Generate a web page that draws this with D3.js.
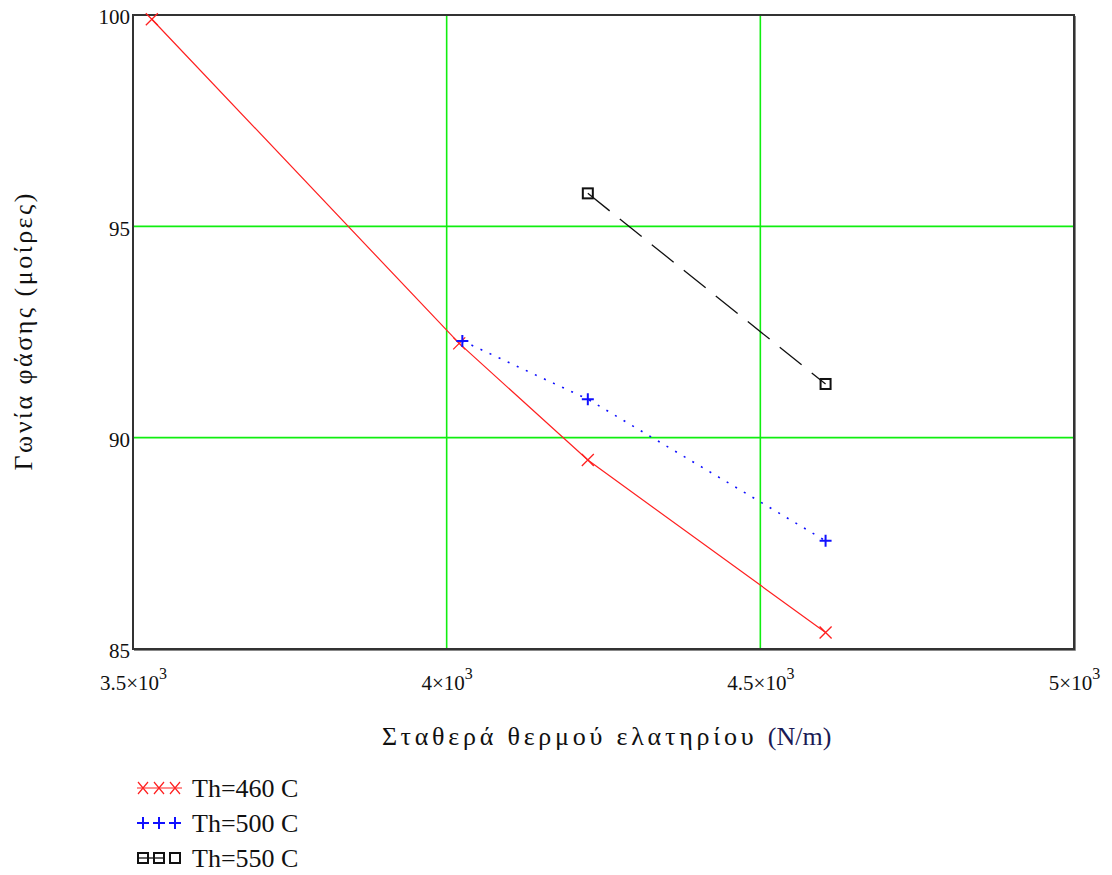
<!DOCTYPE html>
<html>
<head>
<meta charset="utf-8">
<script src="https://cdn.jsdelivr.net/npm/d3@7"></script>
<style>
  html, body { margin: 0; padding: 0; background: #fff; }
  svg { display: block; }
  text { font-family: "Liberation Serif", "Times New Roman", serif; }
</style>
</head>
<body>
<svg id="chart" width="1112" height="875"></svg>
<script>
// Spring constant (N/m) and phase angle (degrees) for three hot-side temperatures
const k460 = [3530, 4020, 4225, 4604];
const phase460 = [99.90, 92.23, 89.47, 85.39];

const k500 = [4025, 4225, 4604];
const phase500 = [92.29, 90.91, 87.56];

const k550 = [4225, 4604];
const phase550 = [95.78, 91.27];

const seriesLabels = ["Th=460 C", "Th=500 C", "Th=550 C"];

// Axis ticks
const xTicks = [3500, 4000, 4500, 5000];
const xTickMantissa = ["3.5", "4", "4.5", "5"];
const xTickExponent = "3";
const yTicks = [85, 90, 95, 100];
const xGrid = [4000, 4500];
const yGrid = [90, 95];

const xTitleGreek = "Σταθερά θερμού ελατηρίου ";
const xTitleUnit = "(N/m)";
const yTitle = "Γωνία φάσης (μοίρες)";

const svg = d3.select("#chart");

const x = d3.scaleLinear().domain([3500, 5000]).range([133, 1074]);
const y = d3.scaleLinear().domain([85, 100]).range([649, 15]);

const green = "#10ee10";

// Grid lines
svg.append("g").selectAll("line").data(xGrid).join("line")
  .attr("x1", d => x(d)).attr("x2", d => x(d))
  .attr("y1", y(85)).attr("y2", y(100))
  .attr("stroke", green).attr("stroke-width", 1.6);
svg.append("g").selectAll("line").data(yGrid).join("line")
  .attr("x1", x(3500)).attr("x2", x(5000))
  .attr("y1", d => y(d)).attr("y2", d => y(d))
  .attr("stroke", green).attr("stroke-width", 1.6);

// Plot frame with a slight shadow on the right and bottom edges
svg.append("rect")
  .attr("x", x(3500)).attr("y", y(100))
  .attr("width", x(5000) - x(3500)).attr("height", y(85) - y(100))
  .attr("fill", "none").attr("stroke", "#333").attr("stroke-width", 2);
svg.append("path")
  .attr("d", `M${x(5000) + 1.5},${y(100) + 1}V${y(85) + 1.5}H${x(3500) + 1}`)
  .attr("fill", "none").attr("stroke", "#888").attr("stroke-width", 1);

// Axes (labels only; the frame draws the spine)
const xAxis = svg.append("g")
  .attr("transform", `translate(0,${y(85)})`)
  .call(d3.axisBottom(x).tickValues(xTicks).tickSize(0).tickFormat(""));
xAxis.select(".domain").remove();
xAxis.selectAll(".tick text").each(function(d, i) {
  const t = d3.select(this)
    .attr("y", 41).attr("dy", null)
    .attr("font-size", 21).attr("fill", "#111")
    .attr("text-anchor", "middle");
  t.append("tspan").text(xTickMantissa[i] + "×10");
  t.append("tspan").attr("dy", -11).attr("font-size", 16).text(xTickExponent);
});

const yAxis = svg.append("g")
  .attr("transform", `translate(${x(3500)},0)`)
  .call(d3.axisLeft(y).tickValues(yTicks).tickSize(0).tickFormat(d3.format("d")));
yAxis.select(".domain").remove();
yAxis.selectAll(".tick text")
  .attr("x", -3).attr("dy", "0.42em")
  .attr("font-size", 21).attr("fill", "#111");

// Lines
const line = (ks, ps) => d3.line().x((d, i) => x(ks[i])).y(d => y(d))(ps);

svg.append("path").attr("d", line(k460, phase460))
  .attr("fill", "none").attr("stroke", "#ff2020").attr("stroke-width", 1.2);
svg.append("path").attr("d", line(k500, phase500))
  .attr("fill", "none").attr("stroke", "#1010ff").attr("stroke-width", 1.6)
  .attr("stroke-dasharray", "2,8");
svg.append("path").attr("d", line(k550, phase550))
  .attr("fill", "none").attr("stroke", "#111").attr("stroke-width", 1.3)
  .attr("stroke-dasharray", "28,13");

// Marker drawers
function crossX(g, cx, cy, color) {
  g.append("path").attr("d", `M${cx - 6},${cy - 6}L${cx + 6},${cy + 6}M${cx - 6},${cy + 6}L${cx + 6},${cy - 6}`)
    .attr("stroke", color).attr("stroke-width", 1.3).attr("fill", "none");
}
function plus(g, cx, cy, color) {
  g.append("path").attr("d", `M${cx - 6},${cy}L${cx + 6},${cy}M${cx},${cy - 6}L${cx},${cy + 6}`)
    .attr("stroke", color).attr("stroke-width", 2).attr("fill", "none");
}
function square(g, cx, cy, color) {
  g.append("rect").attr("x", cx - 5).attr("y", cy - 5).attr("width", 10).attr("height", 10)
    .attr("stroke", color).attr("stroke-width", 2).attr("fill", "none");
}

const marks = svg.append("g");
phase460.forEach((p, i) => crossX(marks, x(k460[i]), y(p), "#ff2020"));
phase500.forEach((p, i) => plus(marks, x(k500[i]), y(p), "#1010ff"));
phase550.forEach((p, i) => square(marks, x(k550[i]), y(p), "#111"));

// Axis titles
const xt = svg.append("text")
  .attr("x", 382).attr("y", 745)
  .attr("font-size", 26).attr("fill", "#111");
xt.append("tspan").attr("textLength", 382).attr("lengthAdjust", "spacing").text(xTitleGreek);
xt.append("tspan").attr("fill", "#1a1a55").attr("font-size", 26).text(xTitleUnit);

svg.append("text")
  .attr("transform", `translate(32,${(y(85) + y(100)) / 2}) rotate(-90)`)
  .attr("text-anchor", "middle").attr("font-size", 26).attr("fill", "#111")
  .attr("textLength", 277).attr("lengthAdjust", "spacing")
  .text(yTitle);

// Legend
const legendRows = [
  { label: seriesLabels[0], color: "#ff2020", draw: crossX },
  { label: seriesLabels[1], color: "#1010ff", draw: plus },
  { label: seriesLabels[2], color: "#111", draw: square }
];
const legend = svg.append("g");
legendRows.forEach((r, i) => {
  const cy = 788 + i * 35;
  const g = legend.append("g");
  if (i === 0) {
    g.append("line").attr("x1", 137).attr("x2", 182).attr("y1", cy).attr("y2", cy)
      .attr("stroke", r.color).attr("stroke-width", 1.2);
  }
  if (i === 2) {
    g.append("line").attr("x1", 137).attr("x2", 165).attr("y1", cy).attr("y2", cy)
      .attr("stroke", r.color).attr("stroke-width", 1.3);
  }
  [143, 159, 175].forEach(cx => {
    if (i === 0) {
      g.append("path").attr("d", `M${cx - 5},${cy - 6}L${cx + 5},${cy + 6}M${cx - 5},${cy + 6}L${cx + 5},${cy - 6}`)
        .attr("stroke", r.color).attr("stroke-width", 1.2).attr("fill", "none");
    } else {
      r.draw(g, cx, cy, r.color);
    }
  });
  legend.append("text").attr("x", 192).attr("y", cy + 9)
    .attr("font-size", 26).attr("fill", "#111").text(r.label);
});
</script>
</body>
</html>
